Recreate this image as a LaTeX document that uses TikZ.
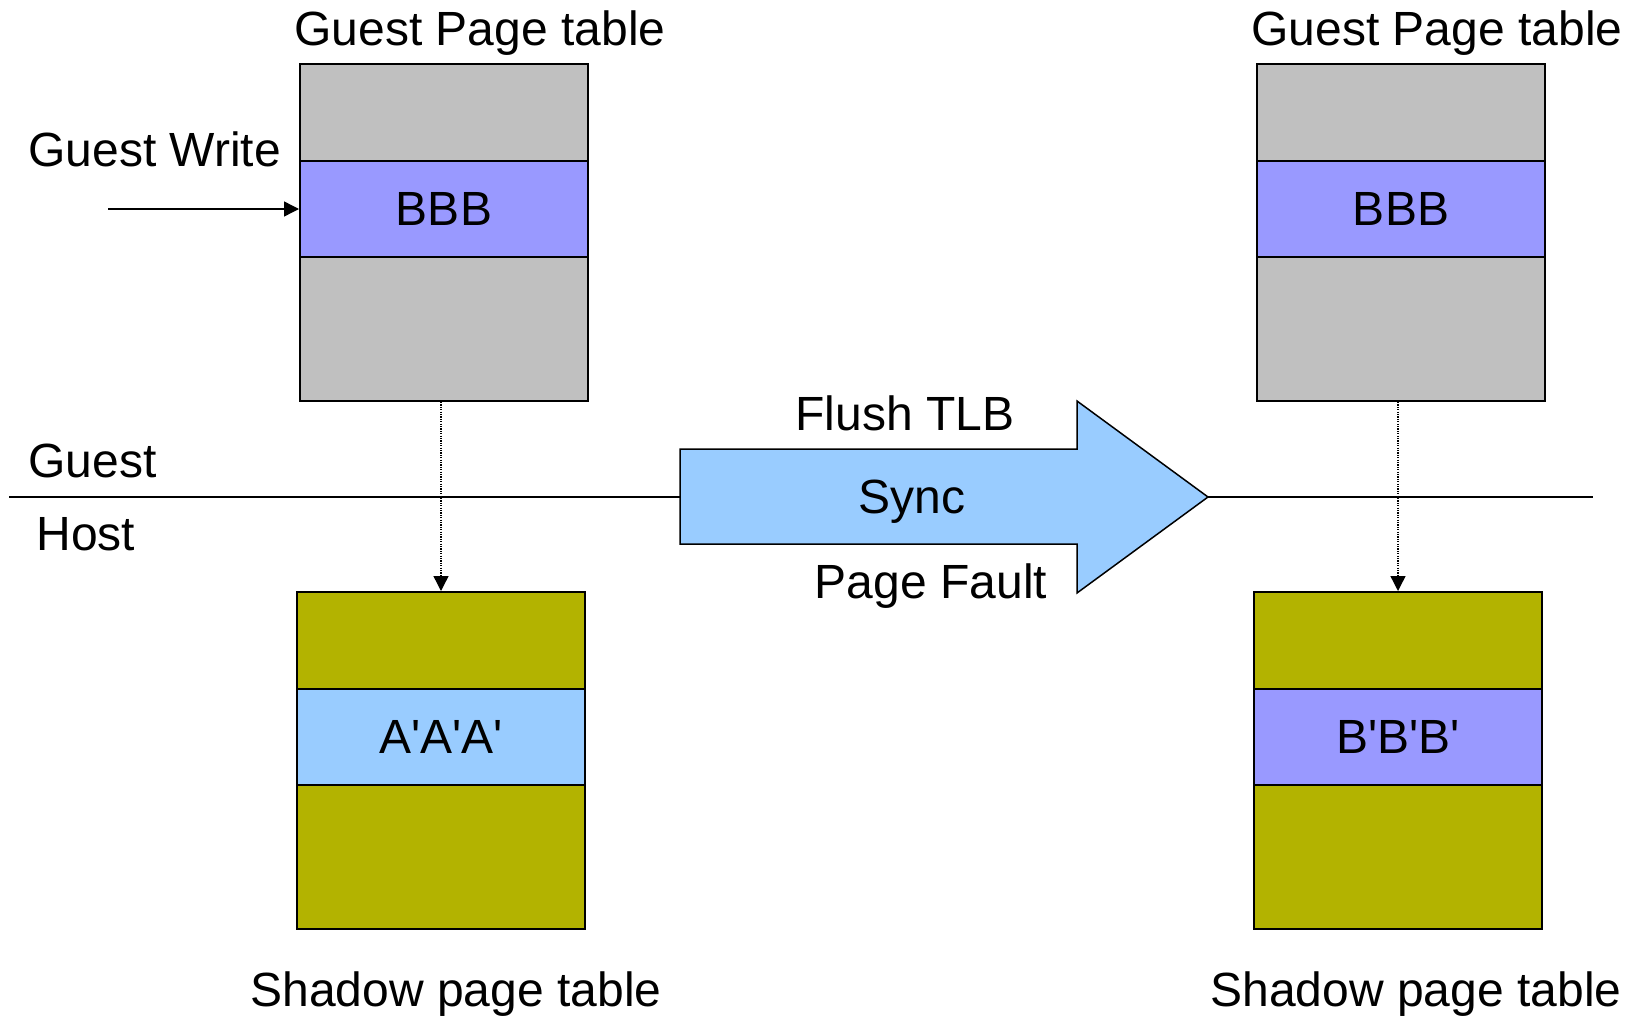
\documentclass[tikz,border=0pt]{standalone}
\usepackage{fontspec}
\setmainfont{Liberation Sans}
\usetikzlibrary{arrows.meta,calc}
\definecolor{gpgray}{HTML}{C0C0C0}
\definecolor{peri}{HTML}{9999FF}
\definecolor{lblue}{HTML}{99CCFF}
\definecolor{olive2}{HTML}{B3B300}
\newcommand{\sq}{\textquotesingle}
\tikzset{
  tbl/.style={draw=black,line width=1pt,inner sep=0pt,minimum width=144pt,minimum height=168.5pt},
  band/.style={draw=black,line width=1pt,inner sep=0pt,minimum width=144pt,minimum height=48pt,font=\fontsize{24}{28}\selectfont},
  lbl/.style={inner sep=0pt,font=\fontsize{24}{28}\selectfont},
  dotarrow/.style={line width=0.7pt,dash pattern=on 0.6pt off 0.6pt,-{Triangle[length=7.5pt,width=7.5pt]}},
  solarrow/.style={line width=0.7pt,-{Triangle[length=7.5pt,width=7.5pt]}},
}
\begin{document}
\begin{tikzpicture}[x=0.5pt,y=-0.5pt]
\useasboundingbox (0,0) rectangle (1629,1017);
% guest/host line
\coordinate (gl1) at (9,497);
\coordinate (gl2) at (1593,497);
\draw[line width=0.75pt] (gl1) -- (gl2);
% big arrow
\fill[lblue,draw=black,line width=0.75pt] (680,449) -- (1077,449) -- (1077,401) -- (1208,497) -- (1077,593) -- (1077,544) -- (680,544) -- cycle;
\node[lbl] (sync) at (912,502) {Sync};
\node[lbl] (flush) at (905,413) {Flush TLB};
\node[lbl] (pf) at (931,586) {Page Fault};
% left guest table
\node[tbl,fill=gpgray] (g1) at (444,232.5) {};
\node[band,fill=peri] (g1b) at (444,209) {BBB};
\node[lbl] (g1t) at (480,33) {Guest Page table};
% right guest table
\node[tbl,fill=gpgray] (g2) at (1401,232.5) {};
\node[band,fill=peri] (g2b) at (1401,209) {BBB};
\node[lbl] (g2t) at (1437,33) {Guest Page table};
% left shadow table
\node[tbl,fill=olive2] (s1) at (441,760.5) {};
\node[band,fill=lblue] (s1b) at (441,736.5) {A\sq A\sq A\sq};
\node[lbl] (s1t) at (456,994) {Shadow page table};
% right shadow table
\node[tbl,fill=olive2] (s2) at (1398,760.5) {};
\node[band,fill=peri] (s2b) at (1398,736.5) {B\sq B\sq B\sq};
\node[lbl] (s2t) at (1416,994) {Shadow page table};
% labels
\node[lbl,anchor=west] (gw) at (28,149) {Guest Write};
\node[lbl,anchor=west] (guest) at (28,461) {Guest};
\node[lbl,anchor=west] (host) at (36,534) {Host};
% connectors
\coordinate (gws) at (108,209);
\draw[solarrow] (gws) -- (g1b.west);
\draw[dotarrow] (s1.north |- g1.south) -- (s1.north);
\draw[dotarrow] (s2.north |- g2.south) -- (s2.north);
\end{tikzpicture}
\end{document}
